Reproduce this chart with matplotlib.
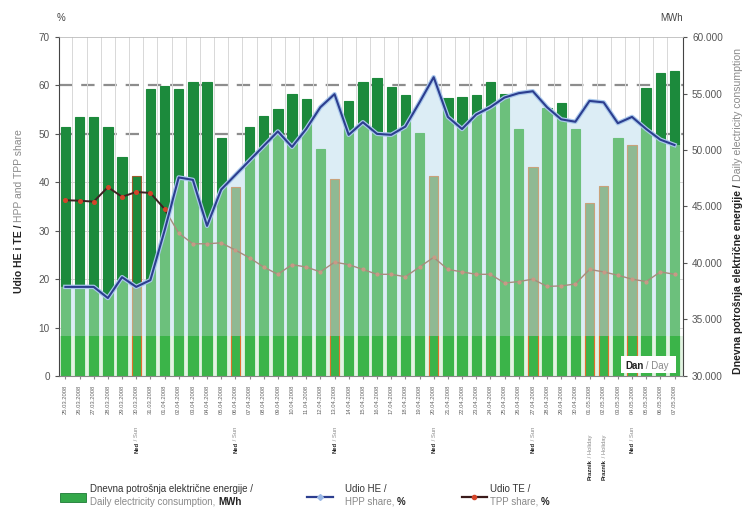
import numpy as np
import pandas as pd
import matplotlib
matplotlib.use("Agg")
import matplotlib.pyplot as plt
from matplotlib.transforms import blended_transform_factory
from matplotlib.patches import Rectangle, Polygon
from matplotlib.lines import Line2D

plt.rcParams["font.family"] = ["Liberation Sans", "DejaVu Sans"]

# daily data, 25.03.2008 - 07.05.2008
dates = pd.date_range("2008-03-25", periods=44).strftime("%d.%m.%Y").tolist()
sunday_idx = [5, 12, 19, 26, 33, 40]
holiday_idx = [37, 38]

consumption_mwh = [
    52000, 52900, 52900, 52000, 49400, 47700, 55400, 55700, 55400, 56000,
    56000, 51100, 46700, 52000, 53000, 53600, 55000, 54500, 50100, 47400,
    54300, 56000, 56400, 55600, 54900, 51500, 47700, 54600, 54700, 54900,
    56000, 55000, 51900, 48500, 53700, 54200, 51900, 45300, 46800, 51100,
    50400, 55500, 56800, 57000,
]
he_share = [
    18.4, 18.4, 18.4, 16.1, 20.4, 18.4, 19.8, 30.0, 41.0, 40.5,
    31.0, 38.5, 41.5, 44.5, 47.5, 50.5, 47.3, 51.0, 55.5, 58.2,
    49.8, 52.4, 50.0, 49.8, 51.5, 56.5, 61.7, 53.5, 51.0, 54.0,
    55.5, 57.5, 58.4, 58.8, 55.5, 53.0, 52.5, 56.8, 56.5, 52.2,
    53.5, 51.0, 48.8, 47.7,
]
te_share = [
    36.3, 36.2, 36.0, 39.0, 37.0, 38.0, 37.8, 34.5, 29.5, 27.3,
    27.3, 27.5, 26.0, 24.4, 22.5, 21.0, 23.0, 22.5, 21.5, 23.5,
    23.0, 22.0, 21.0, 21.0, 20.5, 22.5, 24.5, 22.0, 21.5, 21.0,
    21.0, 19.2, 19.5, 20.0, 18.5, 18.6, 19.0, 22.0, 21.5, 20.8,
    20.0, 19.5, 21.5, 21.0,
]

x = np.arange(len(dates))
he = np.array(he_share)
W, H = 748, 525
band_top = 8.2  # bright strip at the bottom of the bars, in %

fig = plt.figure(figsize=(W / 100, H / 100), dpi=100)
axb = fig.add_axes([59 / W, 1 - 376 / H, 624 / W, 339 / H])
axp = axb.twinx()
pct = blended_transform_factory(axb.transAxes, axp.transData)

# clip regions above / below the HE line and the bottom strip
edge_x = np.concatenate([[-1], x, [len(x)]])
edge_y = np.concatenate([[he[0]], he, [he[-1]]])
above = Polygon(np.column_stack([np.r_[edge_x, len(x), -1], np.r_[edge_y, 200, 200]]),
                transform=axp.transData)
below = Polygon(np.column_stack([np.r_[edge_x, len(x), -1], np.r_[edge_y, -50, -50]]),
                transform=axp.transData)
strip = Rectangle((0, 0), 1, band_top, transform=pct)

# grid lines
for g in [10, 20, 30, 40]:
    axb.add_line(Line2D([0, 1], [g, g], transform=pct, color="#d0d0d0", lw=0.6, zorder=0))
for g in [50, 60]:
    axb.add_line(Line2D([0, 1], [g, g], transform=pct, color="#8d8d8d", lw=1.6,
                        dashes=(6, 4), zorder=0))
for i in x[:-1]:
    axb.axvline(i + 0.5, color="#d8d8d8", lw=0.7, zorder=0)

# HE area
axb.fill_between(x, 0, he_share, transform=axp.transData, color="#dcedf5", lw=0, zorder=0.5)
axb.add_patch(Rectangle((0, 0), 1, band_top, transform=pct, facecolor="#e2f3e2",
                        edgecolor="none", zorder=0.6))

# bars - consumption (three tones: below HE line, above it, bottom strip)
special = set(sunday_idx) | set(holiday_idx)
layers = [
    ("#6cc07c", "#8fb993", "#c9a27a", below, 2),
    ("#1c8a3c", "#1c8a3c", "#9a5a2a", above, 2.1),
    ("#3bb449", "#3bb449", "#e0702a", strip, 2.2),
]
for col, col_special, edge_special, clip, z in layers:
    faces = [col_special if i in special else col for i in x]
    edges = [edge_special if i in special else col for i in x]
    bars = axb.bar(x, consumption_mwh, width=0.66, color=faces, edgecolor=edges,
                   linewidth=0.8, zorder=z)
    for b in bars:
        b.set_clip_path(clip)

# TE share: dark where above the HE area, faded inside it
te_dark, = axp.plot(x, te_share, color="#3f2222", lw=1.4, marker="o", ms=2.6,
                    mfc="#d4452a", mec="#d4452a", zorder=2)
te_dark.set_clip_path(above)
te_light, = axp.plot(x, te_share, color="#a88c7c", lw=1.0, marker="o", ms=2.0,
                     mfc="#c89a86", mec="#c89a86", zorder=2)
te_light.set_clip_path(below)

# HE share
axp.plot(x, he_share, color="#a9c8ec", lw=3.2, zorder=3)
axp.plot(x, he_share, color="#2c3e8f", lw=1.5, zorder=4)

axb.set_xlim(-0.45, 43.6)
axb.set_ylim(30000, 60000)
axp.set_ylim(0, 70)

# axes styling
axp.yaxis.tick_left()
axb.yaxis.tick_right()
axp.set_yticks(range(0, 71, 10))
axp.tick_params(axis="y", labelsize=7.2, labelcolor="#555555", length=3, color="#555555")
axb.set_yticks(range(30000, 60001, 5000))
axb.set_yticklabels([f"{v:,}".replace(",", ".") for v in range(30000, 60001, 5000)])
axb.tick_params(axis="y", labelsize=7.2, labelcolor="#555555", length=3, color="#555555")
axb.set_xticks(x)
axb.set_xticklabels(dates, rotation=90, fontsize=4.2, color="#666666")
axb.tick_params(axis="x", length=2.5, pad=4, color="#888888")
for s in axp.spines.values():
    s.set_visible(False)
axb.spines["left"].set_color("#444444")
axb.spines["right"].set_color("#444444")
axb.spines["top"].set_color("#bbbbbb")
axb.spines["top"].set_linewidth(0.6)
axb.spines["bottom"].set_color("#888888")

renderer = fig.canvas.get_renderer()


def chain(px, py, parts, rot=False, size=7):
    fx, fy = px / W, 1 - py / H
    for s, c, w in parts:
        if rot:
            t = fig.text(fx, fy, s, rotation=90, rotation_mode="anchor", ha="left",
                         va="baseline", color=c, fontweight=w, fontsize=size)
            fy += t.get_window_extent(renderer).height / H
        else:
            t = fig.text(fx, fy, s, ha="left", va="baseline", color=c,
                         fontweight=w, fontsize=size)
            fx += t.get_window_extent(renderer).width / W


dark, grey = "#222222", "#8a8a8a"

# axis titles
chain(22, 293, [("Udio HE i TE / ", dark, "bold"), ("HPP and TPP share", grey, "normal")],
      rot=True, size=7.5)
chain(741, 374, [("Dnevna potrošnja električne energije / ", dark, "bold"),
                 ("Daily electricity consumption", grey, "normal")], rot=True, size=7.6)
fig.text(57 / W, 1 - 21 / H, "%", fontsize=7, color="#444444")
fig.text(672 / W, 1 - 21 / H, "MWh", fontsize=7, color="#444444", ha="center")

# Sunday / holiday notes under the dates
for i in x:
    bx = axb.transData.transform((i, 30000))[0] + 2
    if i in sunday_idx:
        chain(bx, 453, [("Ned", dark, "bold"), (" / Sun", grey, "normal")], rot=True, size=4.2)
    elif i in holiday_idx:
        chain(bx, 480, [("Praznik", dark, "bold"), (" / Holiday", grey, "normal")], rot=True, size=4.2)

# "Dan / Day" box
axp.add_patch(Rectangle((0.9, 0.01), 0.088, 0.05, transform=axp.transAxes,
                        facecolor="white", edgecolor="none", zorder=5))
chain(625, 369, [("Dan", dark, "bold"), (" / Day", grey, "normal")], size=7)

# legend
fig.add_artist(Rectangle((60 / W, 1 - 502 / H), 26 / W, 9 / H, transform=fig.transFigure,
                         facecolor="#34a84a", edgecolor="#1c7a34", lw=0.6))
chain(90, 492, [("Dnevna potrošnja električne energije /", "#333333", "normal")])
chain(90, 505, [("Daily electricity consumption, ", grey, "normal"), ("MWh", dark, "bold")])

fig.add_artist(Line2D([307 / W, 333 / W], [1 - 497 / H] * 2, transform=fig.transFigure,
                      color="#2c3e8f", lw=1.6))
fig.add_artist(Line2D([320 / W], [1 - 497 / H], transform=fig.transFigure, marker="D",
                      ms=3, color="#9ab8e6"))
chain(345, 492, [("Udio HE /", "#333333", "normal")])
chain(345, 505, [("HPP share, ", grey, "normal"), ("%", dark, "bold")])

fig.add_artist(Line2D([462 / W, 487 / W], [1 - 497 / H] * 2, transform=fig.transFigure,
                      color="#3a1a1a", lw=1.6))
fig.add_artist(Line2D([474 / W], [1 - 497 / H], transform=fig.transFigure, marker="o",
                      ms=3, color="#d4452a"))
chain(490, 492, [("Udio TE /", "#333333", "normal")])
chain(490, 505, [("TPP share, ", grey, "normal"), ("%", dark, "bold")])

fig.savefig("out.png", dpi=100)
